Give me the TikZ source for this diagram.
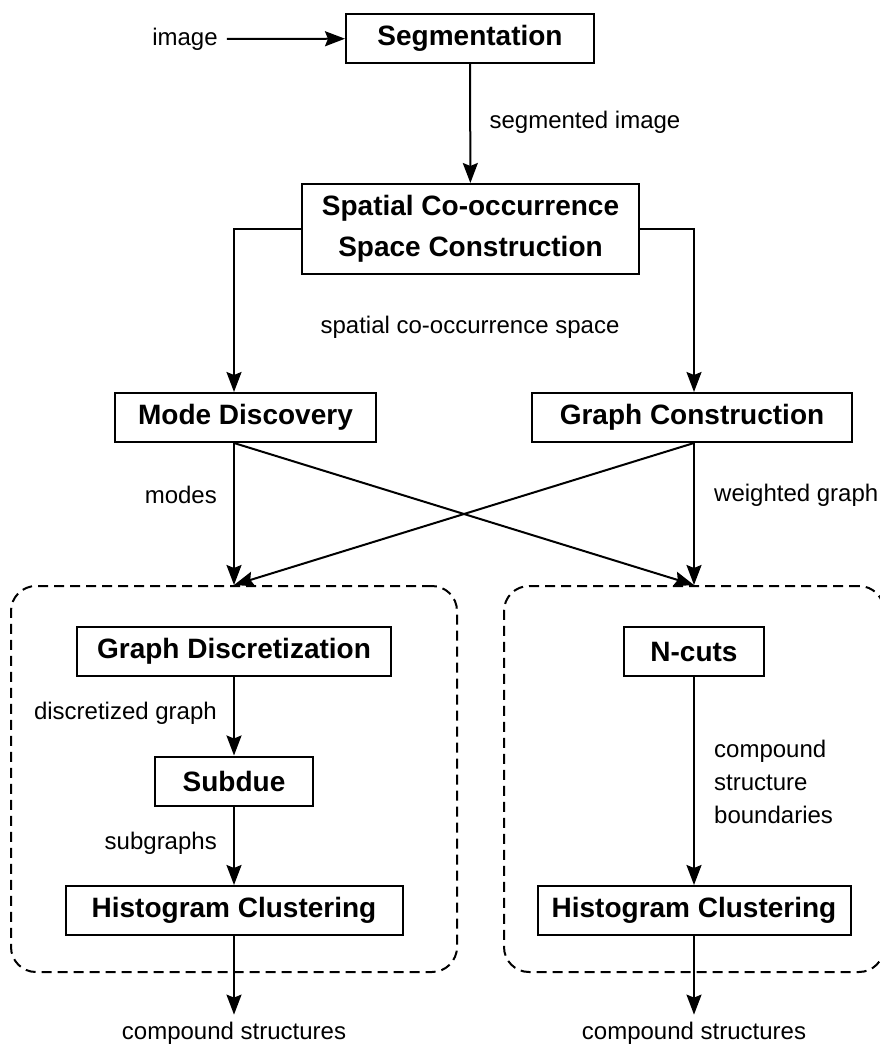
\documentclass[tikz,border=0pt]{standalone}
\usepackage{fontspec}
\setmainfont{Liberation Sans}
\usetikzlibrary{arrows.meta}

\tikzset{
  stage/.style={draw,line width=2pt,inner sep=0pt,minimum height=49pt,
    font=\fontsize{28}{41}\selectfont\bfseries},
  lbl/.style={inner sep=0pt,font=\fontsize{24}{33}\selectfont},
  flow/.style={-{Stealth[length=20pt,width=15pt,inset=3pt]},line width=2pt},
  group/.style={draw,line width=2pt,dash pattern=on 10pt off 6pt,rounded corners=25pt}
}

\begin{document}
\begin{tikzpicture}[x=1pt,y=-1pt]
\useasboundingbox (0,0) rectangle (880,1049);

% top of the pipeline
\node[lbl] (img) at (185,39) {image};
\node[stage,minimum width=248pt] (seg) at (470,38.5) {Segmentation};
\node[stage,minimum width=337pt,minimum height=90pt,align=center] (sco) at (470.5,229)
  {Spatial Co-occurrence\\Space Construction};
\node[stage,minimum width=261pt] (mode) at (245.5,417.5) {Mode Discovery};
\node[stage,minimum width=320pt] (graph) at (692,417.5) {Graph Construction};

% the two groups
\node[group,minimum width=446pt,minimum height=386pt] (lgrp) at (234,779) {};
\node[group,minimum width=380pt,minimum height=386pt] (rgrp) at (694,779) {};

\node[stage,minimum width=314pt] (gd) at (234,651.5) {Graph Discretization};
\node[stage,minimum width=158pt] (sub) at (234,781) {Subdue};
\node[stage,minimum width=337pt] (hcl) at (234,910.5) {Histogram Clustering};
\node[stage,minimum width=140pt] (nc) at (694,651.5) {N-cuts};
\node[stage,minimum width=313pt] (hcr) at (694,910.5) {Histogram Clustering};

\node[lbl] (outl) at (234,1033) {compound structures};
\node[lbl] (outr) at (694,1033) {compound structures};

% edge labels
\node[lbl] at (585,122) {segmented image};
\node[lbl] at (470,327) {spatial co-occurrence space};
\node[lbl,anchor=east] at (217,495) {modes};
\node[lbl,anchor=west] at (714,495) {weighted graph};
\node[lbl,anchor=east] at (217,713) {discretized graph};
\node[lbl,anchor=east] at (217,843) {subgraphs};
\node[lbl,anchor=west,align=left] at (714,782) {compound\\structure\\boundaries};

% connectors
\draw[flow,shorten <=9pt] (img) -- (seg);
\draw[flow] (seg) -- (sco);
\draw[flow] (sco.west) -| (mode.north -| gd.north);
\draw[flow] (sco.east) -| (graph.north -| nc.north);
\draw[flow] (mode.south -| gd.north) -- (lgrp.north);
\draw[flow] (mode.south -| gd.north) -- (rgrp.north);
\draw[flow] (graph.south -| nc.north) -- (rgrp.north);
\draw[flow] (graph.south -| nc.north) -- (lgrp.north);
\draw[flow] (gd) -- (sub);
\draw[flow] (sub) -- (hcl);
\draw[flow] (nc) -- (hcr);
\draw[flow,shorten >=7pt] (hcl) -- (outl);
\draw[flow,shorten >=7pt] (hcr) -- (outr);
\end{tikzpicture}
\end{document}
